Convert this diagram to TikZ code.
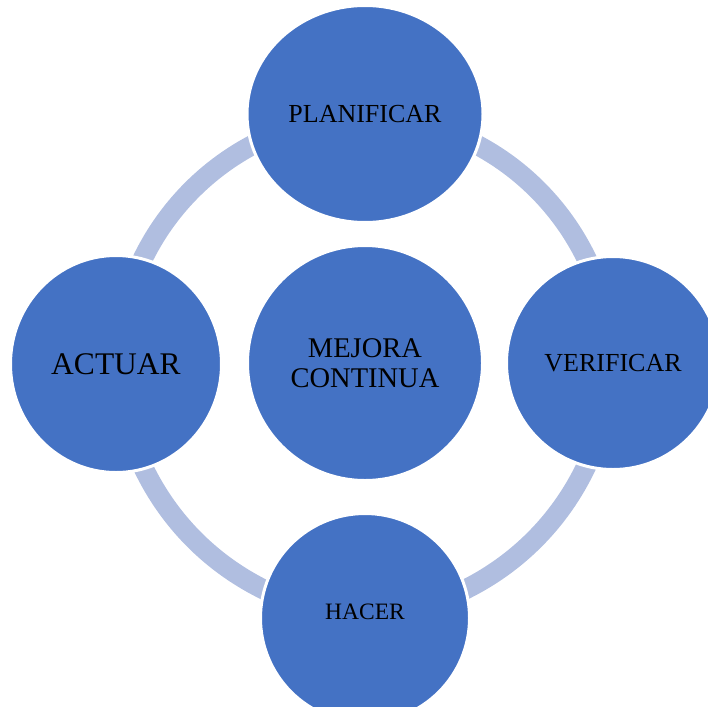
\documentclass[tikz,border=0pt]{standalone}
\usepackage{fontspec}
\setmainfont{Liberation Serif}
\usetikzlibrary{shapes.geometric,backgrounds}
\definecolor{cycleblue}{RGB}{68,114,196}
\definecolor{cyclering}{RGB}{176,190,224}

\begin{document}
\begin{tikzpicture}[x=1pt,y=-1pt,
                    stage/.style={ellipse,fill=cycleblue,draw=white,line width=3pt,
                                  inner sep=0pt,align=center,text=black},
                    ring/.style={draw=cyclering,line width=20pt}]
                    \useasboundingbox (0,0) rectangle (708,706);

                    \node (mejora) [stage,minimum width=235pt,minimum height=235pt,
                        font=\fontsize{28.5}{30}\selectfont] at (365,363) {MEJORA\\CONTINUA};

                    \node (planificar) [stage,minimum width=236pt,minimum height=217pt,
                        font=\fontsize{26}{30}\selectfont] at (365,114) {PLANIFICAR};
                    \node (verificar) [stage,minimum width=213pt,minimum height=213pt,
                        font=\fontsize{26}{30}\selectfont] at (613,363) {VERIFICAR};
                    \node (hacer) [stage,minimum width=209pt,minimum height=209pt,text depth=13pt,
                        font=\fontsize{23.5}{28}\selectfont] at (365,618) {HACER};
                    \node (actuar) [stage,minimum width=211pt,minimum height=217pt,
                        font=\fontsize{31.5}{36}\selectfont] at (116,364) {ACTUAR};

                    \begin{scope}[on background layer]
                        \draw[ring] (planificar.center) to[bend left=42] (verificar.center);
                        \draw[ring] (verificar.center) to[bend left=40] (hacer.center);
                        \draw[ring] (hacer.center) to[bend left=40] (actuar.center);
                        \draw[ring] (actuar.center) to[bend left=42] (planificar.center);
                    \end{scope}
                \end{tikzpicture}
\end{document}
